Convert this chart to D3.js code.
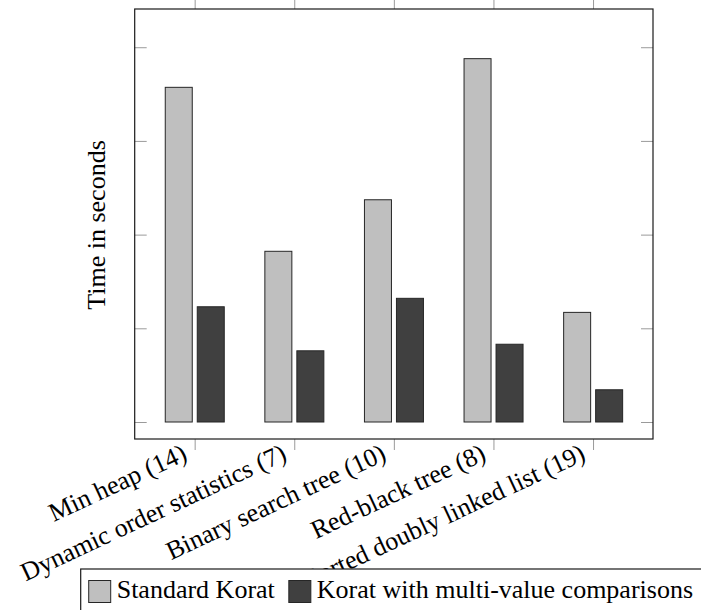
<!DOCTYPE html>
<html>
<head>
<meta charset="utf-8">
<script src="https://cdn.jsdelivr.net/npm/d3@7"></script>
<style>
  html, body { margin: 0; padding: 0; background: #fff; }
  svg { display: block; }
  text { font-family: "Liberation Serif", "Times New Roman", serif; fill: #000; }
</style>
</head>
<body>
<svg id="chart" width="701" height="610"></svg>
<script>
// Benchmarks (number of nodes in parentheses)
const categories = [
  "Min heap (14)",
  "Dynamic order statistics (7)",
  "Binary search tree (10)",
  "Red-black tree (8)",
  "Sorted doubly linked list (19)"
];
// Time in seconds
const standardKorat = [178.6, 91.1, 118.6, 193.9, 58.5];
const multiValueKorat = [61.5, 38.0, 66.0, 41.5, 17.2];
const yTicks = [0, 50, 100, 150, 200];
const seriesNames = ["Standard Korat", "Korat with multi-value comparisons"];
const seriesColors = ["#bfbfbf", "#404040"];

const svg = d3.select("#chart");
const fontSize = 26;

// Plot frame
const frame = { left: 134.7, right: 653, top: 9, bottom: 439 };

const x = d3.scaleLinear()
  .domain([-0.602, categories.length - 1 + 0.602])
  .range([frame.left, frame.right]);

const y = d3.scaleLinear()
  .domain([-9.07, 220.4])
  .range([frame.bottom, frame.top]);

const barW = 27;
const barOffset = [-15.9, 16.1];

const plot = svg.append("g");

// Bars
[standardKorat, multiValueKorat].forEach((vals, s) => {
  plot.append("g").selectAll("rect")
    .data(vals)
    .join("rect")
    .attr("x", (d, i) => x(i) + barOffset[s] - barW / 2)
    .attr("y", d => y(d))
    .attr("width", barW)
    .attr("height", d => y(0) - y(d))
    .attr("fill", seriesColors[s])
    .attr("stroke", "#262626")
    .attr("stroke-width", 1);
});

// Axes: ticks only, drawn on all four sides
const idx = d3.range(categories.length);
const tickColor = "#9a9a9a";

const xBottom = svg.append("g")
  .attr("transform", `translate(0,${frame.bottom})`)
  .call(d3.axisBottom(x).tickValues(idx).tickSize(11).tickSizeOuter(0).tickFormat(""));
const xTop = svg.append("g")
  .attr("transform", `translate(0,${frame.top})`)
  .call(d3.axisTop(x).tickValues(idx).tickSize(11).tickSizeOuter(0).tickFormat(""));
const yLeft = svg.append("g")
  .attr("transform", `translate(${frame.left},0)`)
  .call(d3.axisRight(y).tickValues(yTicks).tickSize(12).tickSizeOuter(0).tickFormat(""));
const yRight = svg.append("g")
  .attr("transform", `translate(${frame.right},0)`)
  .call(d3.axisLeft(y).tickValues(yTicks).tickSize(12).tickSizeOuter(0).tickFormat(""));

[xBottom, xTop, yLeft, yRight].forEach(g => {
  g.select(".domain").remove();
  g.selectAll(".tick line").attr("stroke", tickColor).attr("stroke-width", 1);
});

// Frame
svg.append("rect")
  .attr("x", frame.left).attr("y", frame.top)
  .attr("width", frame.right - frame.left)
  .attr("height", frame.bottom - frame.top)
  .attr("fill", "none")
  .attr("stroke", "#1a1a1a")
  .attr("stroke-width", 1.2);

// Rotated category labels
svg.append("g").selectAll("text")
  .data(categories)
  .join("text")
  .attr("transform", (d, i) => `translate(${x(i) - 10},${frame.bottom + 12}) rotate(-25)`)
  .attr("text-anchor", "end")
  .attr("dy", "0.35em")
  .style("font-size", fontSize + "px")
  .text(d => d);

// Y axis title
svg.append("text")
  .attr("transform", `translate(105,225) rotate(-90)`)
  .attr("text-anchor", "middle")
  .style("font-size", fontSize + "px")
  .text("Time in seconds");

// Legend
const legend = svg.append("g");
legend.append("rect")
  .attr("x", 80.7).attr("y", 569)
  .attr("width", 640).attr("height", 60)
  .attr("fill", "#fff")
  .attr("stroke", "#1a1a1a")
  .attr("stroke-width", 1.2);

let lx = 88.7;
seriesNames.forEach((name, s) => {
  legend.append("rect")
    .attr("x", lx).attr("y", 580.5)
    .attr("width", 22).attr("height", 22)
    .attr("fill", seriesColors[s])
    .attr("stroke", "#262626")
    .attr("stroke-width", 1);
  const t = legend.append("text")
    .attr("x", lx + 28).attr("y", 598)
    .style("font-size", fontSize + "px")
    .text(name);
  lx += 28 + t.node().getComputedTextLength() + 14;
});
</script>
</body>
</html>
